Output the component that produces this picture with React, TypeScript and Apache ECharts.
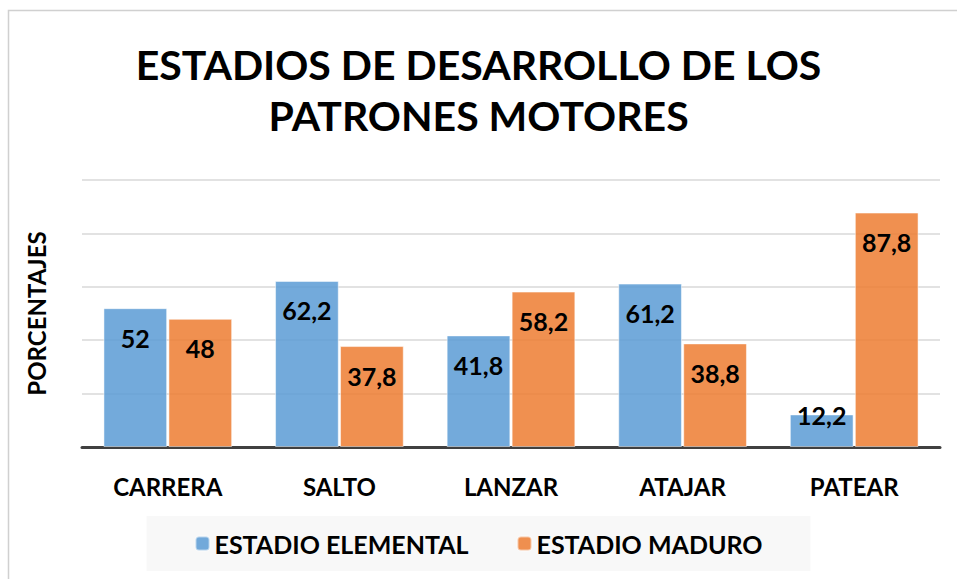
import React, { useEffect, useRef } from "react";
import * as echarts from "echarts";

const categories = ["CARRERA", "SALTO", "LANZAR", "ATAJAR", "PATEAR"];
const elemental = [52, 62.2, 41.8, 61.2, 12.2];
const maduro = [48, 37.8, 58.2, 38.8, 87.8];
const seriesNames = ["ESTADIO ELEMENTAL", "ESTADIO MADURO"];
const titleText = "ESTADIOS DE DESARROLLO DE LOS\nPATRONES MOTORES";
const yAxisName = "PORCENTAJES";

const FONT = "Lato, 'Open Sans', sans-serif";

export default function App() {
  const ref = useRef<HTMLDivElement>(null);
  useEffect(() => {
    if (!ref.current) return;
    const chart = echarts.init(ref.current, null, { renderer: "svg" });
    const fmt = (p: any) => String(p.value).replace(".", ",");
    const labelCfg = {
      show: true,
      position: "insideTop",
      distance: 17,
      color: "#000",
      fontWeight: "bold",
      fontSize: 25,
      fontFamily: FONT,
      formatter: fmt,
    };
    const toData = (arr: number[]) =>
      arr.map((v) =>
        v < 20 ? { value: v, label: { offset: [0, -29] } } : { value: v }
      );
    chart.setOption({
      animation: false,
      backgroundColor: "#fff",
      textStyle: { fontFamily: FONT },
      title: {
        text: titleText,
        left: "center",
        top: 34,
        textStyle: {
          fontSize: 41,
          fontWeight: "bold",
          color: "#000",
          lineHeight: 51,
          fontFamily: FONT,
        },
      },
      legend: {
        bottom: 8,
        left: "center",
        itemWidth: 14,
        itemHeight: 14,
        itemGap: 48,
        backgroundColor: "#f8f8f8",
        padding: [15, 48, 15, 48],
        textStyle: { fontSize: 25, fontWeight: "bold", color: "#000", fontFamily: FONT },
        data: seriesNames,
      },
      graphic: [
        {
          type: "rect",
          shape: { x: 8.5, y: 10.5, width: 980, height: 600 },
          style: { fill: "none", stroke: "#d0d0d0", lineWidth: 1.5 },
          silent: true,
          z: -1,
        },
      ],
      grid: { left: 82, right: 17, top: 180, bottom: 132 },
      xAxis: {
        type: "category",
        data: categories,
        axisTick: { show: false },
        axisLine: { lineStyle: { color: "#404040", width: 3 } },
        axisLabel: {
          fontSize: 24,
          fontWeight: "bold",
          color: "#000",
          margin: 27,
          fontFamily: FONT,
        },
      },
      yAxis: {
        type: "value",
        min: 0,
        max: 100,
        interval: 20,
        name: yAxisName,
        nameLocation: "middle",
        nameGap: 34,
        nameTextStyle: { fontSize: 24, fontWeight: "bold", color: "#000", fontFamily: FONT },
        axisLabel: { show: false },
        axisLine: { show: false },
        axisTick: { show: false },
        splitLine: { lineStyle: { color: "#d9d9d9", width: 1.5 } },
      },
      series: [
        {
          name: seriesNames[0],
          type: "bar",
          data: toData(elemental),
          barGap: "2%",
          barCategoryGap: "25%",
          z: 1,
          itemStyle: {
            color: "rgba(91,155,213,0.85)",
            borderColor: "rgba(255,255,255,0.5)",
            borderWidth: 1,
          },
          label: labelCfg,
        },
        {
          name: seriesNames[1],
          type: "bar",
          data: toData(maduro),
          z: 1,
          itemStyle: {
            color: "rgba(237,125,49,0.85)",
            borderColor: "rgba(255,255,255,0.5)",
            borderWidth: 1,
          },
          label: labelCfg,
        },
      ],
    });
    return () => chart.dispose();
  }, []);
  return (
    <div
      ref={ref}
      style={{ position: "absolute", left: 0, top: 0, width: 957, height: 579 }}
    />
  );
}
